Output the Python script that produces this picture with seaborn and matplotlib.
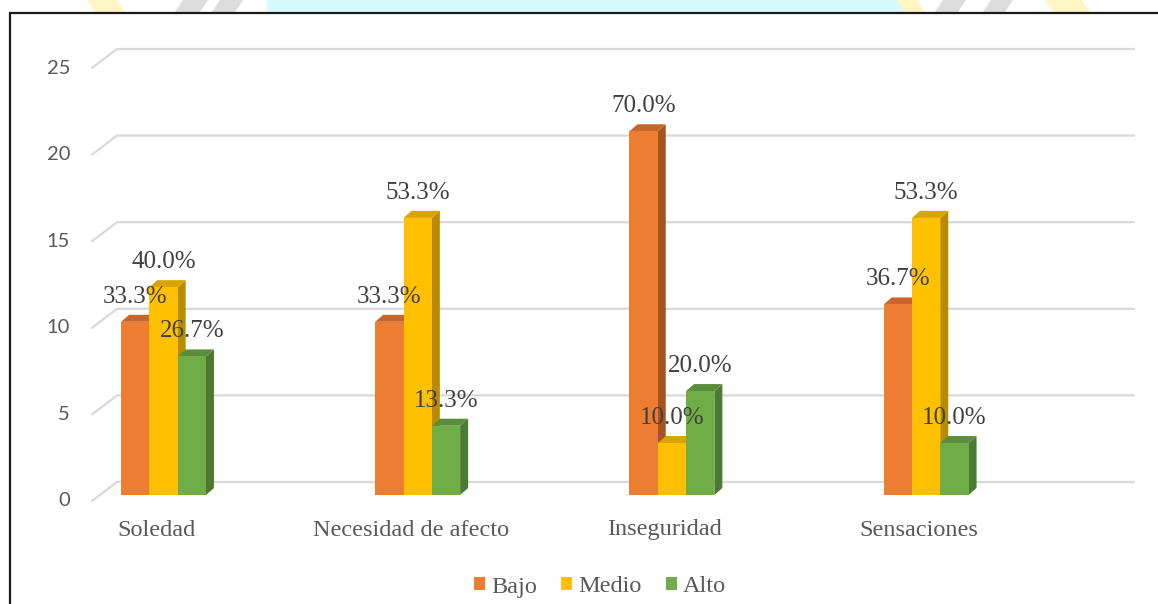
import numpy as np
import pandas as pd
import matplotlib
matplotlib.use("Agg")
import matplotlib.pyplot as plt
import matplotlib.transforms as mtransforms
from matplotlib.patches import Polygon, Rectangle
from matplotlib.lines import Line2D
import seaborn as sns

# data (counts, n = 30 per category)
categorias = ["Soledad", "Necesidad de afecto", "Inseguridad", "Sensaciones"]
niveles = ["Bajo", "Medio", "Alto"]
bajo = [10, 10, 21, 11]
medio = [12, 16, 3, 16]
alto = [8, 4, 6, 3]
y_ticks = [0, 5, 10, 15, 20, 25]

colores = ["#ED7D31", "#FFC000", "#70AD47"]
lados = ["#A6541F", "#B98C00", "#4C7A30"]
techos = ["#C8652A", "#D9A400", "#5A8E3A"]

df = pd.DataFrame({
    "categoria": categorias * 3,
    "nivel": [n for n in niveles for _ in categorias],
    "valor": bajo + medio + alto,
})
totales = df.groupby("categoria")["valor"].transform("sum")
df["pct"] = df["valor"] / totales * 100

W, H, DPI = 1158, 604, 100
sns.set_style("white")
plt.rcParams["font.family"] = ["Liberation Serif", "DejaVu Serif"]

fig = plt.figure(figsize=(W / DPI, H / DPI), dpi=DPI)
fig.patch.set_facecolor("white")

# axes placed in the "bar plane" of the fake 3D chart
ax = fig.add_axes([90 / W, (H - 495) / H, 1044 / W, 433 / H])
sns.barplot(data=df, x="categoria", y="valor", hue="nivel", order=categorias,
            hue_order=niveles, palette=colores, saturation=1, width=0.334,
            gap=0, errorbar=None, ax=ax, linewidth=0)
ax.set_xlim((90 - 163.5) / 254.2, (1134 - 163.5) / 254.2)
ax.set_ylim(0, 25)
ax.set_axis_off()

handles, labels = ax.get_legend_handles_labels()
if ax.legend_ is not None:
    ax.legend_.remove()

ident = mtransforms.IdentityTransform()
DX, DY = 8, 7  # depth of the columns in pixels

# 3D faces for each column
bars = []
for k, cont in enumerate(ax.containers):
    for j, p in enumerate(cont.patches):
        bars.append((p.get_x(), k, j, p))
bars.sort(key=lambda t: t[0])
for idx, (_, k, j, p) in enumerate(bars):
    x0, y0 = ax.transData.transform((p.get_x(), 0))
    x1, y1 = ax.transData.transform((p.get_x() + p.get_width(), p.get_height()))
    z = 3 + idx * 0.1
    ax.add_patch(Polygon([(x1, y0), (x1 + DX, y0 + DY), (x1 + DX, y1 + DY), (x1, y1)],
                         closed=True, fc=lados[k], ec="none", transform=ident,
                         zorder=z, clip_on=False))
    ax.add_patch(Polygon([(x0, y1), (x1, y1), (x1 + DX, y1 + DY), (x0 + DX, y1 + DY)],
                         closed=True, fc=techos[k], ec="none", transform=ident,
                         zorder=z, clip_on=False))
    p.set_zorder(z + 0.05)

# percentage labels
for k, cont in enumerate(ax.containers):
    sub = df[df["nivel"] == niveles[k]].set_index("categoria").loc[categorias]
    for p, pct in zip(cont.patches, sub["pct"]):
        ax.annotate(f"{pct:.1f}%", (p.get_x() + p.get_width() / 2, p.get_height()),
                    xytext=(0, 25), textcoords="offset pixels", ha="center",
                    va="center", fontsize=18, color="#404040", zorder=10)

# gridlines: front diagonal + back wall
for v in y_ticks:
    yd = ax.transData.transform((0, v))[1]
    ax.add_line(Line2D([92, 117, 1134], [yd - 6, yd + 13, yd + 13],
                       color="#D9D9D9", lw=1.6, transform=ident, zorder=1,
                       clip_on=False))
    ax.text(70, v, str(v), transform=mtransforms.blended_transform_factory(ident, ax.transData)
            + mtransforms.ScaledTranslation(0, -6 / DPI, fig.dpi_scale_trans),
            ha="right", va="center", fontsize=14.5, color="#595959",
            family=["Lato", "DejaVu Sans"])

# category labels on the front edge
for i, c in enumerate(categorias):
    ax.text(i, 0, c, transform=ax.transData
            + mtransforms.ScaledTranslation(-7 / DPI, -35 / DPI, fig.dpi_scale_trans),
            ha="center", va="center", fontsize=17.5, color="#595959")

fig.legend(handles, labels, loc="center", bbox_to_anchor=(600 / W, 1 - 587 / H),
           ncol=3, frameon=False, fontsize=17.5, handlelength=0.45,
           handleheight=0.45, handletextpad=0.25, columnspacing=1.0,
           labelcolor="#595959")

# faint watermark strip above the frame
top = 1 - 12 / H
fig.add_artist(Rectangle((267 / W, top), 640 / W, 12 / H, transform=fig.transFigure,
                         fc="#D6FAFD", ec="none", zorder=0))
for xa, xb in [(95, 125), (905, 925), (1053, 1090)]:
    fig.add_artist(Polygon([(xa / W, top), (xb / W, top), ((xb - 8) / W, 1), ((xa - 8) / W, 1)],
                           closed=True, transform=fig.transFigure, fc="#FFF6C4",
                           ec="none", zorder=0))
for xa, xb in [(175, 200), (212, 235), (935, 958), (983, 1005)]:
    fig.add_artist(Polygon([(xa / W, top), (xb / W, top), ((xb + 8) / W, 1), ((xa + 8) / W, 1)],
                           closed=True, transform=fig.transFigure, fc="#DDDDDD",
                           ec="none", zorder=0))

# dark frame around the chart
fig.add_artist(Rectangle((9.5 / W, -0.05), 1.2, 1 - 12.5 / H + 0.05,
                         transform=fig.transFigure, fill=False, ec="#1A1A1A",
                         lw=1.6, zorder=5))

fig.savefig("out.png", dpi=DPI)
